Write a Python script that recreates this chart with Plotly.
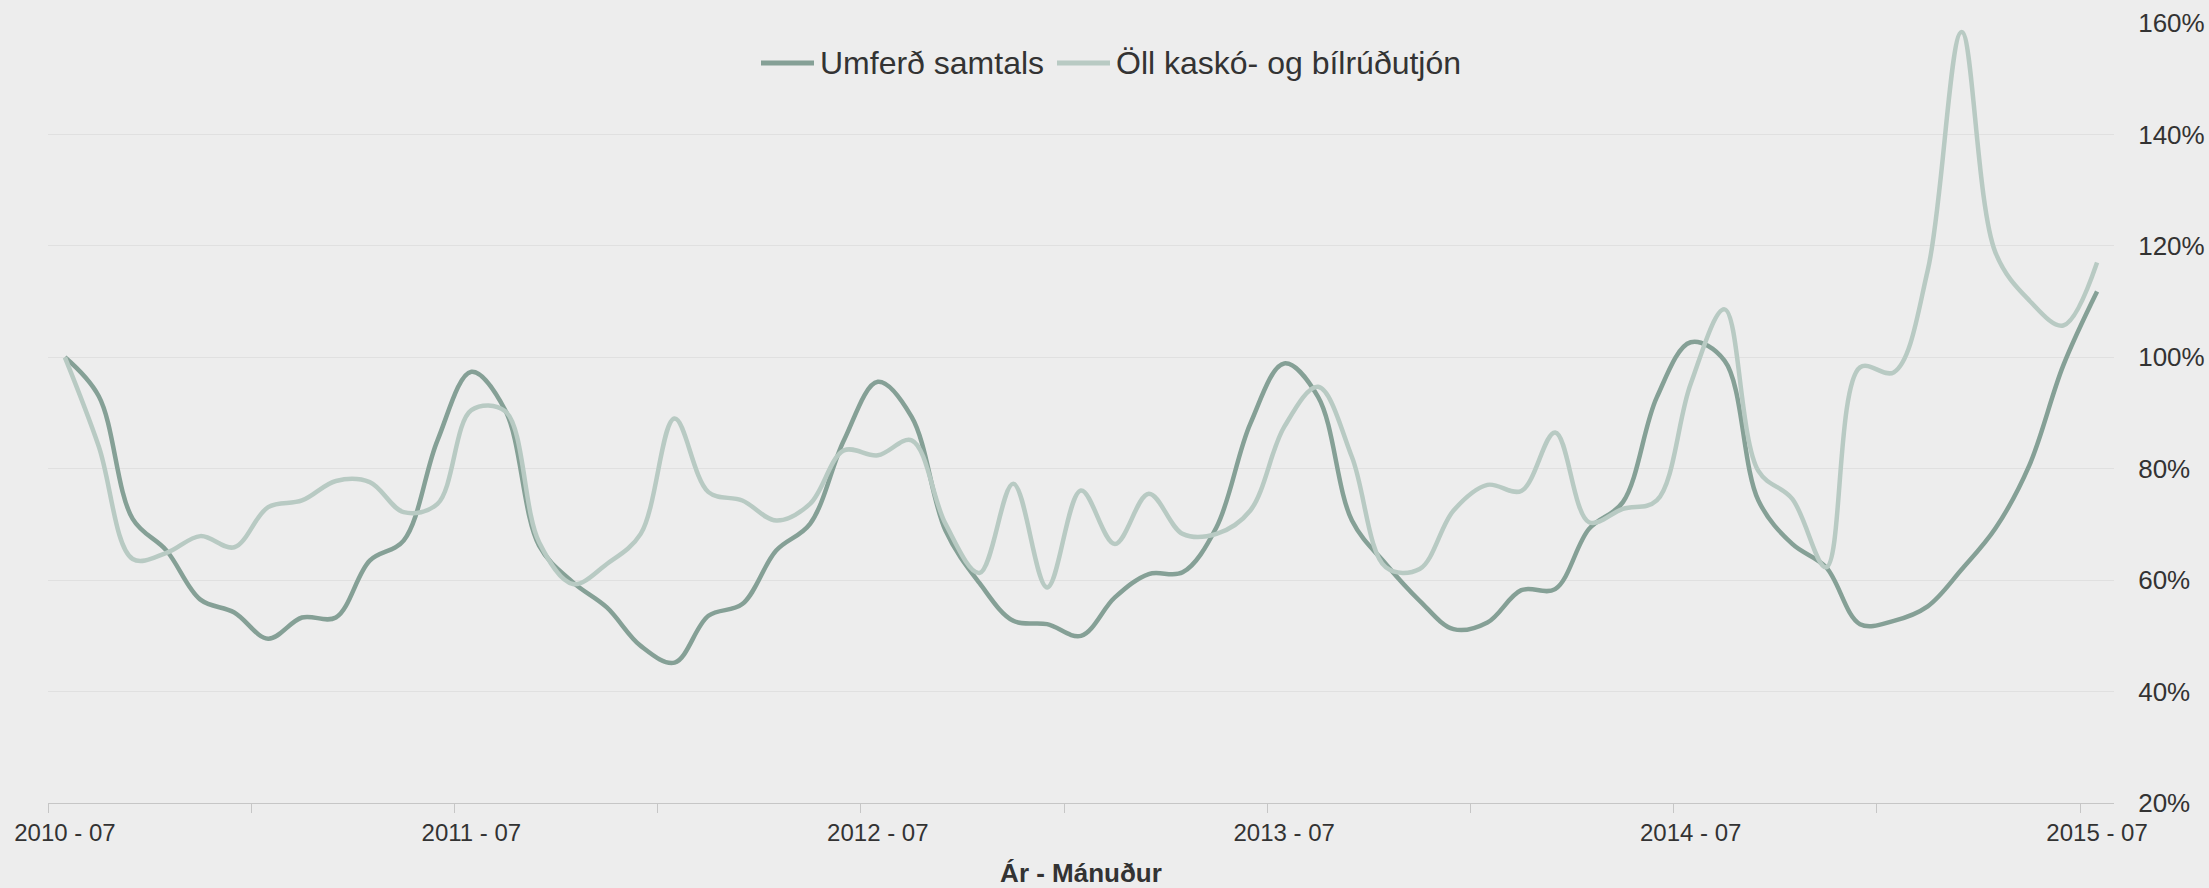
import plotly.graph_objects as go

# Categories: monthly, 2010-07 .. 2015-07
months = []
for y in range(2010, 2016):
    for m in range(1, 13):
        if (y == 2010 and m < 7) or (y == 2015 and m > 7):
            continue
        months.append(f"{y} - {m:02d}")

tick_labels = ["2010 - 07", "2011 - 07", "2012 - 07", "2013 - 07", "2014 - 07", "2015 - 07"]

umferd = [100, 93, 71, 65.3, 56.5, 54.2, 49.5, 53.3, 53.3, 63.5,
          67.1, 85.1, 97.4, 90.5, 66.2, 59.6, 55.1, 48.2, 45.2, 53.6,
          55.7, 65.3, 70.1, 85.1, 95.6, 89.3, 68.9, 59.5, 52.7, 52.1,
          50.0, 56.9, 61.1, 61.4, 69.5, 88.1, 98.9, 92.9, 70.7, 62.9,
          56.3, 51.2, 52.4, 58.2, 58.4, 69.2, 74.0, 92.8, 102.7, 99.4,
          74.3, 66.5, 62.3, 52.1, 52.7, 55.3, 61.9, 69.3, 80.6, 98.5,
          111.8]

tjon = [100, 84, 63.8, 64.9, 67.9, 65.9, 73.1, 74.3, 77.8, 77.6,
        72.2, 73.7, 90.5, 90.3, 66.8, 59.3, 62.9, 68.3, 89.0, 75.8,
        74.3, 70.7, 73.7, 83.3, 82.4, 85.1, 70.1, 61.3, 77.3, 58.7,
        76.1, 66.5, 75.5, 68.3, 68.3, 72.5, 87.5, 94.7, 82.1, 62.3,
        62.0, 72.5, 77.1, 76.0, 86.5, 70.4, 72.8, 74.3, 95.2, 108.6,
        79.6, 74.6, 62.3, 98.2, 97.3, 115.6, 158.4, 118.8, 110.2, 105.7,
        117.0]

series_names = ["Umferð samtals", "Öll kaskó- og bílrúðutjón"]
series_colors = ["#85a096", "#b8cac3"]

x_idx = list(range(len(months)))
tick_pos = [months.index(t) for t in tick_labels]

FONT = "Liberation Sans, Arial, Helvetica, sans-serif"
TXT = "#333333"

W, H = 2209, 888
ML, MR, MT, MB = 48, 95, 23, 85
PW, PH = W - ML - MR, H - MT - MB


def px_x(px):
    return (px - ML) / PW


def px_y(py):
    return (H - MB - py) / PH


fig = go.Figure()
for name, vals, col in zip(series_names, [umferd, tjon], series_colors):
    fig.add_trace(go.Scatter(
        x=x_idx, y=vals, name=name, mode="lines",
        line=dict(color=col, width=4.5, shape="spline", smoothing=1.0),
        customdata=months, showlegend=False,
        hovertemplate="%{customdata}: %{y:.1f}%<extra>" + name + "</extra>",
    ))

# Legend (drawn as symbol line + text, centred at the top of the plot)
legend_sym = [(761, 814), (1057, 1110)]
legend_y = 63
shapes = []
annotations = []
for (x0, x1), name, col in zip(legend_sym, series_names, series_colors):
    shapes.append(dict(type="line", xref="paper", yref="paper",
                       x0=px_x(x0), x1=px_x(x1), y0=px_y(legend_y), y1=px_y(legend_y),
                       line=dict(color=col, width=5), layer="above"))
    annotations.append(dict(text=name, xref="paper", yref="paper",
                            x=px_x(x1 + 4), y=px_y(legend_y),
                            xanchor="left", yanchor="middle", showarrow=False,
                            font=dict(size=32, color=TXT, family=FONT)))

fig.update_layout(
    width=W, height=H,
    paper_bgcolor="#ededed", plot_bgcolor="#ededed",
    margin=dict(l=ML, r=MR, t=MT, b=MB, autoexpand=False),
    font=dict(family=FONT, color=TXT),
    showlegend=False,
    shapes=shapes,
    annotations=annotations,
    xaxis=dict(
        range=[-0.5, len(months) - 0.5], automargin=False,
        tickmode="array", tickvals=tick_pos, ticktext=tick_labels,
        ticks="outside", ticklen=8, tickcolor="rgba(0,0,0,0)",
        showgrid=False, zeroline=False,
        showline=True, linecolor="#c6c6c6", linewidth=1,
        tickfont=dict(size=24, color=TXT, family=FONT),
        minor=dict(tickmode="linear", tick0=-0.5, dtick=6, ticks="outside",
                   ticklen=9, tickwidth=1, tickcolor="#c6c6c6", showgrid=False),
        title=dict(text="Ár - Mánuður", standoff=20,
                   font=dict(size=26, color=TXT, family=FONT, weight="bold")),
        fixedrange=True,
    ),
    yaxis=dict(
        side="right", range=[20, 160], tickmode="linear", tick0=20, dtick=20,
        automargin=False,
        ticksuffix="%", showgrid=True, gridcolor="#e0e0e0", gridwidth=1,
        zeroline=False, showline=False,
        ticks="outside", ticklen=18, tickcolor="rgba(0,0,0,0)",
        tickfont=dict(size=26, color=TXT, family=FONT),
        fixedrange=True,
    ),
)

fig.write_html(
    "out.html",
    config={"displayModeBar": False},
    post_script="document.body.style.margin='0';document.body.style.overflow='hidden';",
)
